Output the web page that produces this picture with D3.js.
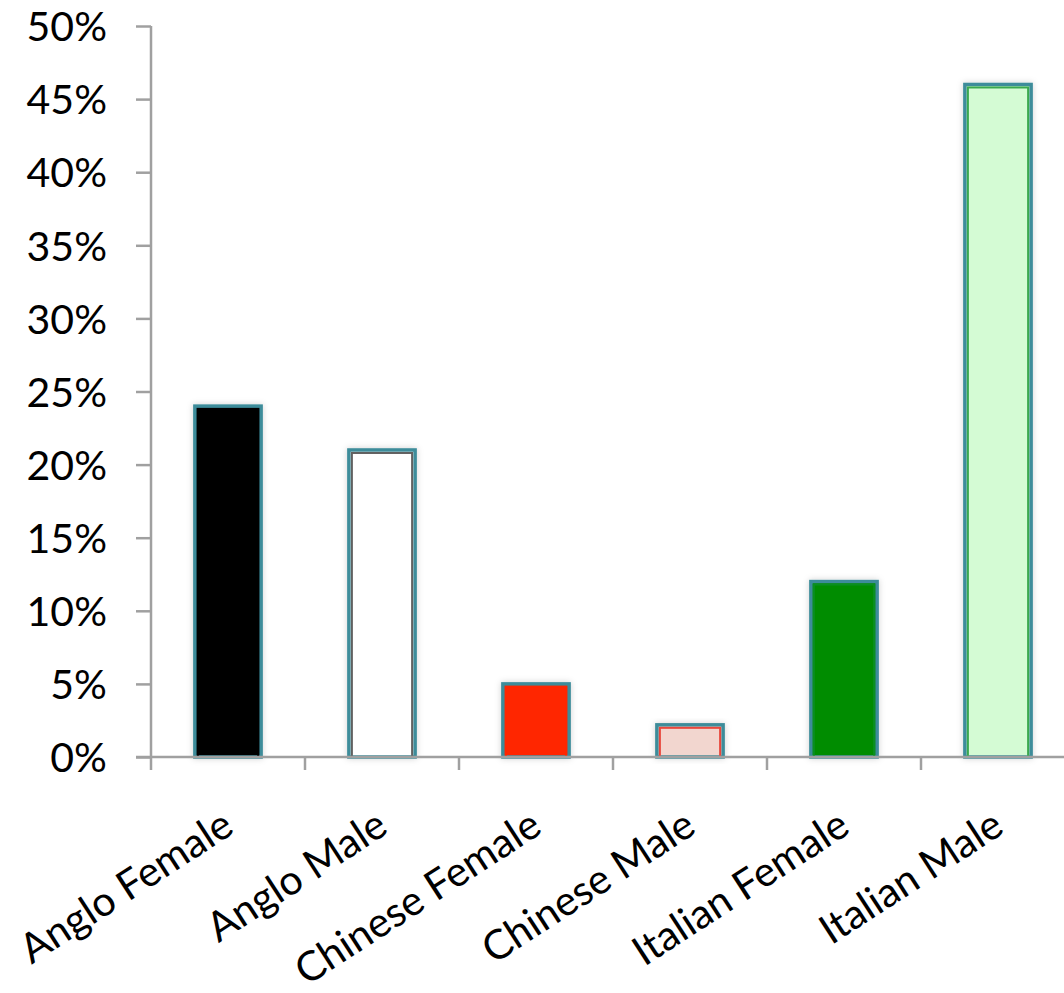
<!DOCTYPE html>
<html><head><meta charset="utf-8">
<script src="https://cdn.jsdelivr.net/npm/d3@7"></script>
<style>html,body{margin:0;padding:0;background:#fff;}svg{display:block;}</style>
</head><body>
<script>
const categories = ["Anglo Female","Anglo Male","Chinese Female","Chinese Male","Italian Female","Italian Male"];
const values = [0.24, 0.21, 0.05, 0.022, 0.12, 0.46];
const fills = ["#000000","#ffffff","#ff2600","#f2d6cf","#008c00","#d4fbd4"];
const innerStrokes = ["#000000","#606060","#ff2600","#e8473c","#0a8f20","#3aa84e"];
const yTicks = [0,0.05,0.10,0.15,0.20,0.25,0.30,0.35,0.40,0.45,0.50];

const W=1064,H=993;
const svg=d3.select("body").append("svg").attr("width",W).attr("height",H);
const defs=svg.append("defs");
const f=defs.append("filter").attr("id","sh").attr("x","-20%").attr("y","-20%").attr("width","140%").attr("height","140%");
f.append("feDropShadow").attr("dx",0).attr("dy",0).attr("stdDeviation",3).attr("flood-color","#000").attr("flood-opacity",0.18);

const x=d3.scaleBand().domain(categories).range([151,1075]).paddingInner(0.57).paddingOuter(0.285);
const y=d3.scaleLinear().domain([0,0.5]).range([757,26]);
const font="Lato, 'Open Sans', sans-serif";
const axisColor="#a0a0a0";

// bars
const bw=x.bandwidth();
const g=svg.append("g");
categories.forEach((c,i)=>{
  const x0=x(c), y0=y(values[i]), h=y(0)-y0;
  g.append("rect").attr("x",x0).attr("y",y0).attr("width",bw).attr("height",h)
    .attr("fill",fills[i]).attr("stroke","#3c8c9a").attr("stroke-width",3.5).attr("filter","url(#sh)");
  g.append("rect").attr("x",x0+3).attr("y",y0+3).attr("width",bw-6).attr("height",Math.max(0,h-3))
    .attr("fill","none").attr("stroke",innerStrokes[i]).attr("stroke-width",2);
});

// y axis
const ya=svg.append("g").attr("transform","translate(151,0)")
  .call(d3.axisLeft(y).tickValues(yTicks).tickFormat(d3.format(".0%")).tickSize(15).tickPadding(29));
ya.select(".domain").remove();
ya.selectAll(".tick line").attr("stroke",axisColor).attr("stroke-width",2.5);
ya.selectAll("text").attr("font-family",font).attr("font-size",41).attr("fill","#000").attr("dy","0.36em");
svg.append("line").attr("x1",151).attr("x2",151).attr("y1",26).attr("y2",770).attr("stroke",axisColor).attr("stroke-width",2.5);

// x axis
svg.append("line").attr("x1",136).attr("x2",W).attr("y1",757).attr("y2",757).attr("stroke",axisColor).attr("stroke-width",2.5);
const bandStart = d3.range(categories.length).map(i=>x.range()[0]+i*x.step());
svg.selectAll(".xt").data(bandStart.slice(1)).join("line")
  .attr("x1",d=>d).attr("x2",d=>d).attr("y1",757).attr("y2",770).attr("stroke",axisColor).attr("stroke-width",2.5);

// category labels
svg.selectAll(".cl").data(categories).join("text")
  .attr("transform",d=>`translate(${x(d)+bw/2+8},832) rotate(-33)`)
  .attr("text-anchor","end").attr("font-family",font).attr("font-size",41).attr("fill","#000")
  .text(d=>d);
</script>
</body></html>
